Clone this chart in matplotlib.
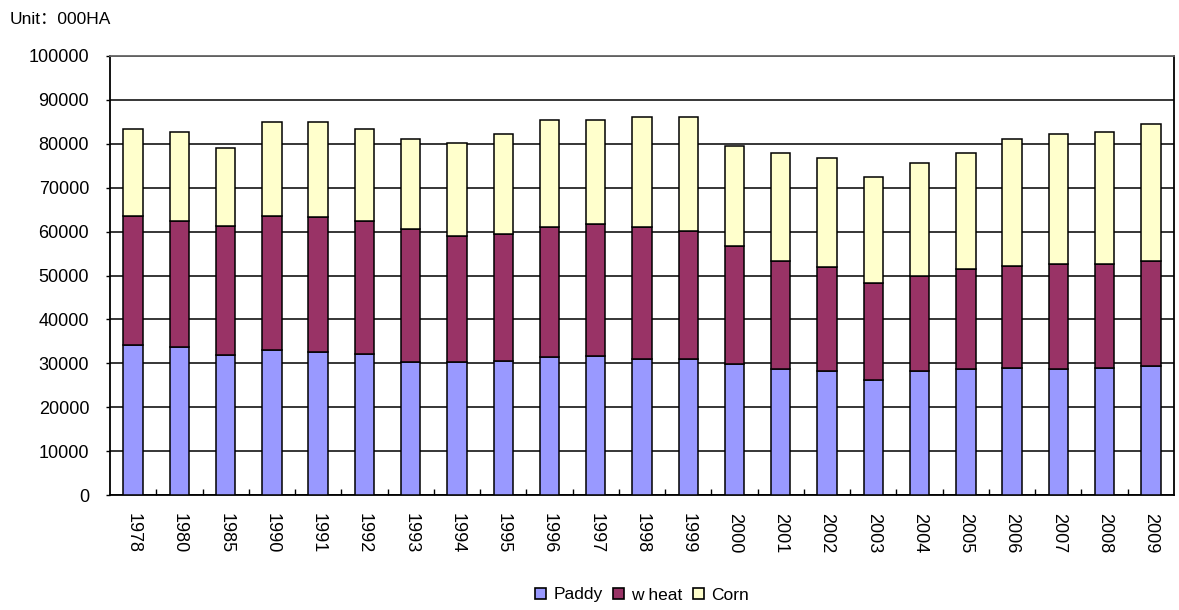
import numpy as np
import matplotlib.pyplot as plt
from matplotlib.ticker import FixedLocator

plt.rcParams['font.family'] = ['Liberation Sans', 'Noto Sans CJK SC', 'DejaVu Sans']

# 데이터 (단위: 000HA)
years = ['1978', '1980', '1985', '1990', '1991', '1992', '1993', '1994', '1995',
         '1996', '1997', '1998', '1999', '2000', '2001', '2002', '2003', '2004',
         '2005', '2006', '2007', '2008', '2009']
paddy = [34200, 33800, 31800, 33050, 32600, 32200, 30250, 30200, 30600,
         31400, 31750, 31000, 31000, 29750, 28650, 28250, 26250, 28250,
         28650, 29000, 28650, 29000, 29400]
wheat_top = [63600, 62500, 61350, 63600, 63300, 62500, 60600, 59000, 59400,
             61000, 61750, 61000, 60200, 56650, 53400, 51950, 48350, 49900,
             51500, 52250, 52650, 52650, 53400]
total = [83400, 82600, 79100, 85000, 85000, 83400, 81000, 80250, 82250,
         85350, 85350, 86200, 86200, 79400, 77900, 76700, 72350, 75550,
         77900, 81000, 82250, 82600, 84600]

paddy = np.array(paddy)
wheat = np.array(wheat_top) - paddy
corn = np.array(total) - np.array(wheat_top)

fig = plt.figure(figsize=(11.79, 6.10), dpi=100)
ax = fig.add_axes([110 / 1179, 1 - 495 / 610, 1064 / 1179, 439 / 610])

x = np.arange(len(years))
w = 0.42
kw = dict(width=w, edgecolor='black', linewidth=1.1, zorder=3)
ax.bar(x, paddy, color='#9999FF', label='Paddy', **kw)
ax.bar(x, wheat, bottom=paddy, color='#993366', label='w heat', **kw)
ax.bar(x, corn, bottom=paddy + wheat, color='#FFFFCC', label='Corn', **kw)

ax.set_xlim(-0.5, len(years) - 0.5)
ax.set_ylim(0, 100000)
ax.set_yticks(np.arange(0, 100001, 10000))
ax.yaxis.grid(True, color='black', linewidth=1.1, zorder=0)
ax.set_axisbelow(True)

ax.set_xticks(x)
ax.set_xticklabels(years, rotation=270, fontsize=13)
ax.tick_params(axis='x', which='major', length=0, pad=13)
ax.xaxis.set_minor_locator(FixedLocator(np.arange(0.5, len(years) - 0.5, 1)))
ax.tick_params(axis='x', which='minor', direction='in', length=4, width=1, color='black')
ax.tick_params(axis='y', labelsize=13, direction='out', length=3, width=1, pad=12)

for side in ['left', 'bottom', 'right']:
    ax.spines[side].set_color('black')
    ax.spines[side].set_linewidth(1.3)
ax.spines['top'].set_color('#666666')
ax.spines['top'].set_linewidth(1.3)

fig.text(10 / 1179, 1 - 20 / 610, 'Unit：000HA', fontsize=12.5, va='center', ha='left')

leg = ax.legend(loc='center', bbox_to_anchor=(0.5, (495 - 595) / 439), ncol=3,
                frameon=False, fontsize=12.5, handlelength=0.65, handleheight=0.65,
                handletextpad=0.4, columnspacing=0.6)
for h in leg.legend_handles:
    h.set_edgecolor('black')
    h.set_linewidth(1.2)

fig.savefig('out.png', dpi=100)
